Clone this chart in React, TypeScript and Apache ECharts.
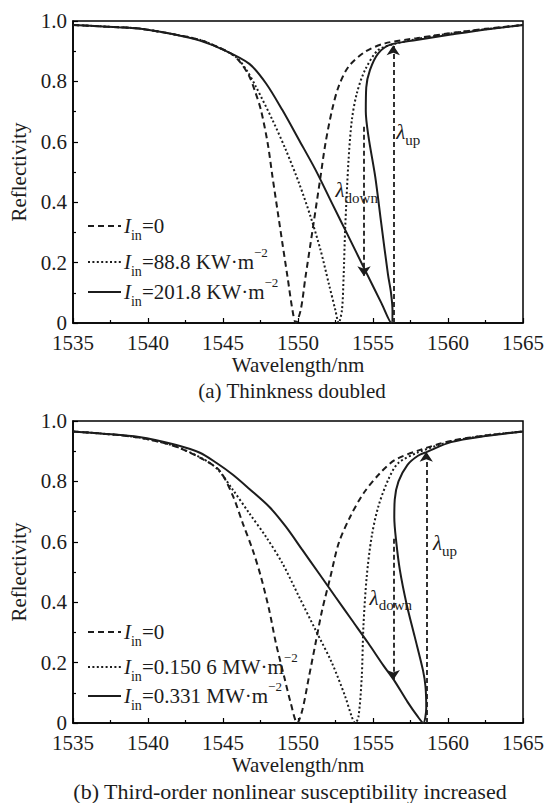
import React, { useEffect, useRef } from 'react';
import * as echarts from 'echarts';

const FONT = "'Liberation Serif', 'Times New Roman', serif";
const INK = '#1c1c1c';

// axis definitions
const X_MIN = 1535;
const X_MAX = 1565;
const X_STEP = 5;
const Y_MIN = 0;
const Y_MAX = 1;
const Y_STEP = 0.2;

const xAxisName = 'Wavelength/nm';
const yAxisName = 'Reflectivity';
const captions = ['(a) Thinkness doubled', '(b) Third-order nonlinear susceptibility increased'];

// (a) thickness doubled
const dashedA: [number, number][] = [
  [1535, 0.987], [1537, 0.982], [1539.4, 0.975], [1541.7, 0.956], [1543.5, 0.937], [1544.6, 0.915],
  [1545.6, 0.89], [1546.2, 0.86], [1546.76, 0.816], [1547.15, 0.765], [1547.53, 0.705], [1547.98, 0.595],
  [1548.3, 0.484], [1548.63, 0.374], [1548.96, 0.264], [1549.3, 0.153], [1549.63, 0.043], [1549.85, 0.0],
  [1550.18, 0.043], [1550.5, 0.153], [1550.84, 0.264], [1551.17, 0.374], [1551.5, 0.484], [1551.83, 0.595],
  [1552.27, 0.705], [1552.7, 0.782], [1553.37, 0.849], [1554.47, 0.898], [1555.8, 0.926], [1557.9, 0.943],
  [1560.2, 0.96], [1562.5, 0.974], [1565, 0.987],
];
const dottedA: [number, number][] = [
  [1535, 0.987], [1537, 0.982], [1539.4, 0.975], [1541.7, 0.956], [1543.5, 0.937], [1544.8, 0.91],
  [1545.88, 0.88], [1546.6, 0.835], [1547.2, 0.782], [1548.3, 0.672], [1549.19, 0.573], [1550.07, 0.463],
  [1550.84, 0.352], [1551.5, 0.242], [1552.05, 0.131], [1552.49, 0.043], [1552.71, 0.0], [1552.93, 0.043],
  [1553.04, 0.153], [1553.15, 0.319], [1553.37, 0.54], [1553.59, 0.672], [1553.92, 0.76], [1554.47, 0.838],
  [1555.35, 0.904], [1556.5, 0.925], [1558, 0.941], [1560.2, 0.959], [1562.5, 0.973], [1565, 0.987],
];
const solidA: [number, number][] = [
  [1535, 0.987], [1537, 0.982], [1539.4, 0.975], [1541.7, 0.956], [1543.46, 0.935], [1545, 0.905],
  [1546.76, 0.858], [1547.86, 0.794], [1548.96, 0.705], [1550.07, 0.606], [1551.17, 0.507], [1552.27, 0.396],
  [1553.37, 0.286], [1554.47, 0.175], [1555.57, 0.065], [1556.23, 0.0],
  [1556.3, 0.04], [1556.2, 0.1], [1556.0, 0.16], [1555.55, 0.33], [1555.15, 0.484], [1554.7, 0.617],
  [1554.52, 0.7], [1554.55, 0.78], [1554.8, 0.838], [1555.35, 0.893], [1556.12, 0.921], [1557.9, 0.937],
  [1560.2, 0.955], [1562.5, 0.972], [1565, 0.987],
];
const legendA = ['=0', '=88.8 KW·m', '=201.8 KW·m'];
// arrows: [x, fromY, toY]
const arrowDownA = [1554.4, 0.65, 0.155];
const arrowUpA = [1556.35, 0, 0.92];
const labelUpA = [1556.55, 0.632];
const labelDownA = [1552.5, 0.44];

// (b) third-order nonlinear susceptibility increased
const dashedB: [number, number][] = [
  [1535, 0.965], [1537, 0.958], [1539.4, 0.945], [1541.7, 0.918], [1543.68, 0.873], [1544.78, 0.835],
  [1545.66, 0.752], [1546.32, 0.661], [1546.98, 0.573], [1547.53, 0.484], [1548.08, 0.374], [1548.53, 0.264],
  [1549.08, 0.153], [1549.52, 0.065], [1549.95, 0.0], [1550.29, 0.043], [1550.73, 0.153], [1551.17, 0.264],
  [1551.61, 0.374], [1552.16, 0.484], [1552.71, 0.595], [1553.48, 0.683], [1554.36, 0.76], [1555.46, 0.827],
  [1556.46, 0.871], [1558.0, 0.902], [1560.2, 0.934], [1562.5, 0.952], [1565, 0.965],
];
const dottedB: [number, number][] = [
  [1535, 0.965], [1537, 0.958], [1539.4, 0.945], [1541.7, 0.918], [1543.5, 0.879], [1544.6, 0.842],
  [1545.66, 0.772], [1546.76, 0.694], [1547.86, 0.617], [1548.96, 0.529], [1550.07, 0.418], [1551.17, 0.308],
  [1552.27, 0.198], [1553.15, 0.087], [1553.59, 0.02], [1553.81, 0.0], [1554.03, 0.02], [1554.25, 0.153],
  [1554.36, 0.319], [1554.58, 0.484], [1554.91, 0.617], [1555.35, 0.716], [1556.01, 0.805], [1556.67, 0.86],
  [1558, 0.896], [1560.2, 0.932], [1562.5, 0.952], [1565, 0.965],
];
const solidB: [number, number][] = [
  [1535, 0.965], [1537, 0.958], [1539.4, 0.947], [1541.7, 0.923], [1543.46, 0.895], [1544.6, 0.86],
  [1545.66, 0.822], [1546.76, 0.775], [1548.08, 0.716], [1549.19, 0.65], [1550.29, 0.573], [1551.39, 0.496],
  [1552.49, 0.418], [1553.59, 0.341], [1554.69, 0.264], [1555.7, 0.19], [1556.4, 0.142], [1557.3, 0.07],
  [1558.0, 0.02], [1558.35, 0.0],
  [1558.55, 0.05], [1558.5, 0.12], [1558.33, 0.175], [1557.78, 0.286], [1557.23, 0.396], [1556.79, 0.507],
  [1556.55, 0.6], [1556.42, 0.68], [1556.45, 0.74], [1556.7, 0.8], [1557.3, 0.855], [1558.0, 0.885],
  [1558.6, 0.898], [1560.2, 0.93], [1562.5, 0.95], [1565, 0.965],
];
const legendB = ['=0', '=0.150 6 MW·m', '=0.331 MW·m'];
const arrowDownB = [1556.35, 0.61, 0.142];
const arrowUpB = [1558.55, 0, 0.898];
const labelUpB = [1559.0, 0.596];
const labelDownB = [1554.77, 0.414];

const GRID_TOPS = [21, 421];
const LEGEND_ROWS = [[226, 262, 292], [632, 667, 696]];
const CAPTION_Y = [391, 791];
const CAPTION_SIZE = [21, 22];

const DASH = [6, 4];
const DOT = [2, 2.4];

const rich = {
  i: { fontFamily: FONT, fontStyle: 'italic', fontSize: 21, lineHeight: 32, fill: INK },
  s: { fontFamily: FONT, fontSize: 14, lineHeight: 14, verticalAlign: 'bottom', fill: INK },
  t: { fontFamily: FONT, fontSize: 21, lineHeight: 32, fill: INK },
  p: { fontFamily: FONT, fontSize: 13, lineHeight: 22, verticalAlign: 'top', fill: INK },
  l: { fontFamily: FONT, fontStyle: 'italic', fontSize: 21, lineHeight: 30, fill: INK },
  d: { fontFamily: FONT, fontSize: 15, lineHeight: 15, verticalAlign: 'bottom', fill: INK },
};

function axesFor(i: number) {
  const x = {
    gridIndex: i, type: 'value', min: X_MIN, max: X_MAX, interval: X_STEP,
    name: xAxisName, nameLocation: 'middle', nameGap: 31,
    nameTextStyle: { fontFamily: FONT, fontSize: 21, color: INK },
    axisLine: { show: true, onZero: false, lineStyle: { color: '#000', width: 1.5 } },
    axisTick: { show: true, inside: true, length: 5, lineStyle: { color: '#000', width: 1.2 } },
    minorTick: { show: true, splitNumber: 2, length: 3, lineStyle: { color: '#000', width: 1.2 } },
    axisLabel: {
      fontFamily: FONT, fontSize: 21, lineHeight: 17, color: INK, margin: 11,
      formatter: (v: number) => String(v),
    },
    splitLine: { show: false },
  };
  const y = {
    gridIndex: i, type: 'value', min: Y_MIN, max: Y_MAX, interval: Y_STEP,
    name: yAxisName, nameLocation: 'middle', nameGap: 44, nameRotate: 90,
    nameTextStyle: { fontFamily: FONT, fontSize: 21, color: INK },
    axisLine: { show: true, onZero: false, lineStyle: { color: '#000', width: 1.5 } },
    axisTick: { show: true, inside: true, length: 5, lineStyle: { color: '#000', width: 1.2 } },
    minorTick: { show: true, splitNumber: 2, length: 3, lineStyle: { color: '#000', width: 1.2 } },
    axisLabel: {
      fontFamily: FONT, fontSize: 21, lineHeight: 17, color: INK, margin: 6,
      formatter: (v: number) => (v === 0 ? '0' : v.toFixed(1)),
    },
    splitLine: { show: false },
  };
  return { x, y };
}

function curve(i: number, data: [number, number][], type: any, width: number) {
  return {
    type: 'line', xAxisIndex: i, yAxisIndex: i, data, showSymbol: false, symbol: 'none',
    smooth: 0.3, silent: true, clip: false,
    lineStyle: { color: INK, width, type },
  };
}

function arrows(i: number, down: number[], up: number[]) {
  return {
    type: 'lines', coordinateSystem: 'cartesian2d', xAxisIndex: i, yAxisIndex: i, silent: true,
    symbol: ['none', 'arrow'], symbolSize: 10,
    lineStyle: { color: INK, width: 1.8, type: [5, 3], opacity: 1 },
    data: [
      { coords: [[down[0], down[1]], [down[0], down[2]]] },
      { coords: [[up[0], up[1]], [up[0], up[2]]] },
    ],
  };
}

function legendGraphics(rows: number[], texts: string[]) {
  const styles = [DASH, DOT, null];
  const out: any[] = [];
  rows.forEach((y, k) => {
    out.push({
      type: 'line', shape: { x1: 88, y1: y, x2: 121, y2: y },
      style: { stroke: INK, lineWidth: 2, lineDash: styles[k] || null },
    });
    const sup = k === 0 ? '' : '{p|−2}';
    out.push({
      type: 'text', x: 124, y,
      style: { text: `{i|I}{s|in}{t|${texts[k]}}${sup}`, rich, align: 'left', verticalAlign: 'middle' },
    });
  });
  return out;
}

export default function App() {
  const ref = useRef<HTMLDivElement>(null);
  useEffect(() => {
    document.body.style.margin = '0';
    const chart = echarts.init(ref.current!, null, { renderer: 'svg' });
    const a0 = axesFor(0);
    const a1 = axesFor(1);
    const option: any = {
      animation: false,
      backgroundColor: '#fff',
      textStyle: { fontFamily: FONT },
      grid: GRID_TOPS.map((t) => ({
        left: 72, top: t, width: 454, height: 302, show: true,
        borderColor: '#000', borderWidth: 1.5, backgroundColor: 'transparent', containLabel: false,
      })),
      xAxis: [a0.x, a1.x],
      yAxis: [a0.y, a1.y],
      series: [
        curve(0, dashedA, DASH, 2),
        curve(0, dottedA, DOT, 2),
        curve(0, solidA, 'solid', 2),
        arrows(0, arrowDownA, arrowUpA),
        curve(1, dashedB, DASH, 2),
        curve(1, dottedB, DOT, 2),
        curve(1, solidB, 'solid', 2),
        arrows(1, arrowDownB, arrowUpB),
      ],
    };
    chart.setOption(option);

    const lbl = (grid: number, pos: number[], sub: string) => {
      const p = chart.convertToPixel({ gridIndex: grid } as any, pos) as number[];
      return {
        type: 'text', x: p[0], y: p[1],
        style: { text: `{l|λ}{d|${sub}}`, rich, align: 'left', verticalAlign: 'middle' },
      };
    };

    chart.setOption({
      graphic: [
        ...legendGraphics(LEGEND_ROWS[0], legendA),
        ...legendGraphics(LEGEND_ROWS[1], legendB),
        lbl(0, labelUpA, 'up'),
        lbl(0, labelDownA, 'down'),
        lbl(1, labelUpB, 'up'),
        lbl(1, labelDownB, 'down'),
        ...captions.map((c, k) => ({
          type: 'text', x: k === 0 ? 292 : 290, y: CAPTION_Y[k],
          style: { text: c, fontFamily: FONT, fontSize: CAPTION_SIZE[k], fill: INK, align: 'center', verticalAlign: 'middle' },
        })),
      ],
    });
    return () => chart.dispose();
  }, []);
  return (
    <div style={{ position: 'fixed', left: 0, top: 0, width: 547, height: 803, background: '#fff' }}>
      <div ref={ref} style={{ width: 547, height: 803 }} />
    </div>
  );
}
